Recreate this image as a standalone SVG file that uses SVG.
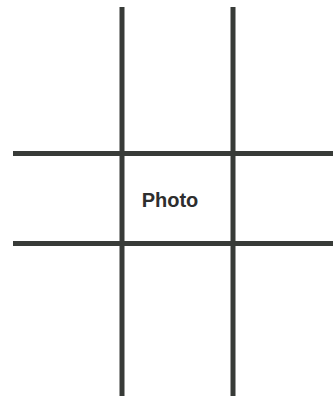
<svg xmlns="http://www.w3.org/2000/svg" width="333" height="396" viewBox="0 0 333 396">
<style>
.ln{stroke:#383b38;stroke-width:5;fill:none}
.lbl{font-family:"Liberation Sans",Arial,sans-serif;font-weight:bold;font-size:20px;fill:#2e2e2e}
</style>
<rect width="333" height="396" fill="#ffffff"/>
<g id="connectors">
<line class="ln" x1="122" y1="7" x2="122" y2="396"/>
<line class="ln" x1="233" y1="7" x2="233" y2="396"/>
<line class="ln" x1="13" y1="153.5" x2="333" y2="153.5"/>
<line class="ln" x1="13" y1="243.5" x2="333" y2="243.5"/>
</g>
<g id="photo">
<text class="lbl" x="170" y="206.5" text-anchor="middle">Photo</text>
</g>
</svg>
